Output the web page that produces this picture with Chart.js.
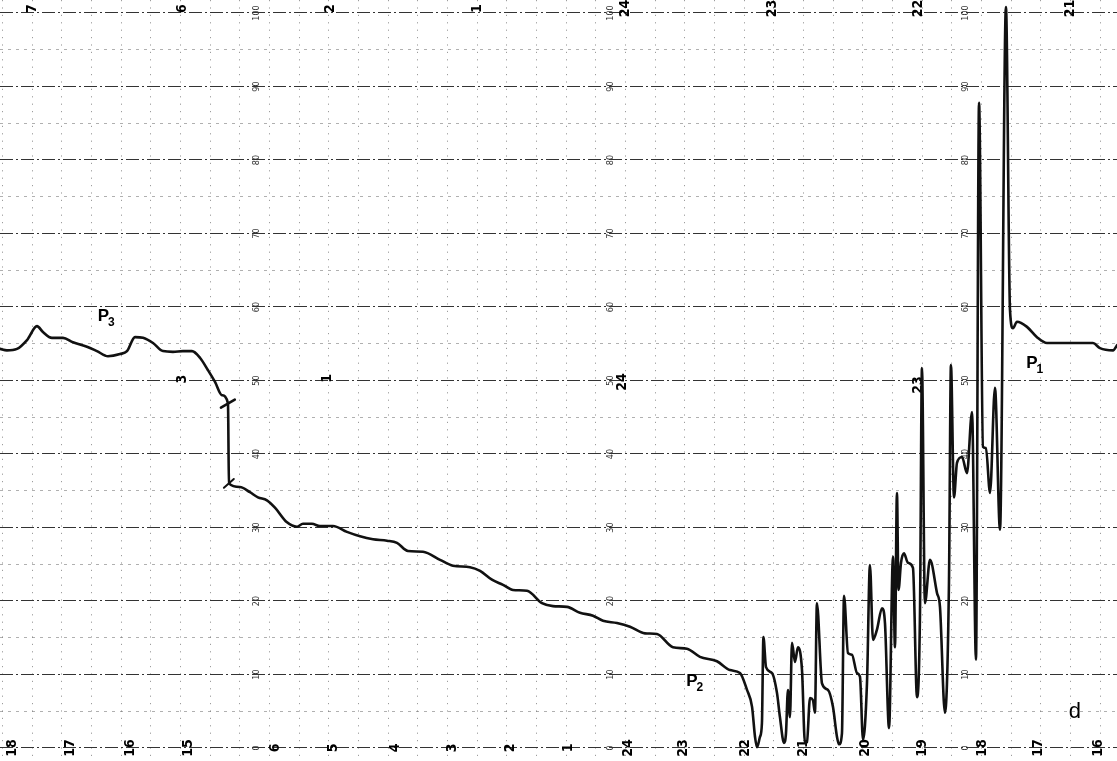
<!DOCTYPE html>
<html>
<head>
<title>Recorder strip</title>
<script src="https://cdn.jsdelivr.net/npm/chart.js"></script>
<style>
  html, body { margin: 0; padding: 0; background: #fff; }
  canvas { display: block; }
</style>
</head>
<body>
<canvas id="strip" width="1117" height="761"></canvas>

<script>
// trace: x = minutes from the first half-hour line, y = chart divisions (0-100)
const traceMinutes = [
  -2.4, 4.6, 14.8, 24.9, 35.0, 41.0, 50.1, 61.3, 71.4, 85.5, 95.6, 106.8, 118.9, 126.0,
  134.1, 142.2, 152.3, 162.4, 172.5, 182.6, 191.7, 199.8, 207.9, 215.0, 222.0, 228.1,
  229.1, 240.2, 250.3, 258.4, 267.5, 275.6, 287.8, 297.9, 303.9, 313.0, 321.1, 334.3,
  348.4, 361.6, 374.7, 388.9, 399.0, 410.1, 425.3, 442.5, 455.6, 472.8, 483.0, 495.0,
  506.2, 516.3, 530.4, 545.6, 556.7, 570.9, 584.0, 597.2, 607.3, 621.4, 634.6, 649.7,
  661.9, 678.0, 692.2, 705.3, 722.5, 735.7, 745.8,
  752.9, 758.0, 761.0, 763.0, 766.0, 768.0, 769.5, 772.1, 778.2, 783.2, 786.2, 790.3,
  792.3, 794.3, 796.3, 798.4, 801.4, 804.4, 808.5, 811.5, 813.5, 816.6, 819.6, 821.6,
  823.6, 828.7, 834.8, 839.8, 843.9, 845.9, 848.9, 851.0, 855.0, 859.0, 864.1, 867.1,
  870.2, 874.2, 877.2, 880.3, 884.3, 889.4, 892.4, 896.5, 900.5, 902.5, 904.5, 906.1,
  908.6, 911.6, 915.6, 920.7, 924.8, 927.8, 929.8, 932.8, 937.9, 945.0, 948.0, 953.0,
  957.1, 959.1, 962.2, 965.2, 970.3, 975.3, 980.4, 984.4, 987.5, 991.5, 994.5, 998.6,
  1003.6, 1008.7, 1014.7, 1018.8, 1021.8, 1025.9, 1036.0, 1046.1, 1056.2, 1069.4,
  1102.7, 1109.8, 1123.0, 1127.0
];
const traceValues = [
  54.3, 54.1, 54.3, 55.5, 57.4, 56.6, 55.8, 55.8, 55.2, 54.6, 54.0, 53.3, 53.6, 54.0,
  55.9, 55.8, 55.1, 54.0, 53.9, 54.0, 54.0, 53.1, 51.4, 49.8, 48.0, 46.9,
  36.0, 35.5, 34.8, 34.1, 33.7, 32.7, 30.7, 30.1, 30.5, 30.5, 30.2, 30.2,
  29.4, 28.8, 28.4, 28.2, 27.9, 26.8, 26.7, 25.6, 24.8, 24.6, 24.1, 22.9,
  22.2, 21.5, 21.4, 19.7, 19.3, 19.2, 18.4, 18.0, 17.3, 17.0, 16.5, 15.6,
  15.5, 13.7, 13.5, 12.4, 11.8, 10.6, 10.2,
  7.9, 5.6, 1.5, 0.1, 1.5, 3.4, 15.1, 11.0, 10.2, 7.5, 4.2, 0.7,
  2.0, 7.9, 4.2, 14.3, 11.7, 13.7, 10.6, 0.7, 0.8, 6.8, 6.5, 4.8,
  19.7, 8.8, 7.9, 5.6, 1.5, 0.5, 2.0, 20.7, 12.9, 12.7, 10.2, 9.7,
  1.1, 8.8, 24.9, 14.7, 16.1, 19.0, 17.0, 2.7, 26.0, 13.7, 34.7, 21.5,
  25.2, 26.5, 25.2, 24.5, 6.9, 18.4, 51.7, 19.7, 25.6, 21.1, 19.2, 4.8,
  22.4, 52.1, 34.1, 38.8, 39.6, 37.4, 45.7, 12.0, 87.8, 41.0, 40.8, 34.7,
  49.0, 29.7, 100.8, 59.6, 57.1, 58.0, 57.3, 55.9, 55.1, 55.1,
  55.1, 54.4, 54.1, 54.8
];

// short cross strokes at both ends of the jump
const markTopMinutes = [221, 235];
const markTopValues = [46.3, 47.4];
const markBottomMinutes = [224, 234];
const markBottomValues = [35.4, 36.6];

// hour numbers printed along the paper
const bottomHours = ['18','17','16','15','6','5','4','3','2','1','24','23','22','21','20','19','18','17','16'];
const bottomHourMinutes = [9.7, 68.3, 129.0, 187.7, 275.6, 334.3, 397.0, 454.6, 513.2, 571.9,
  632.5, 688.2, 750.9, 809.5, 872.2, 929.8, 990.5, 1047.1, 1107.8];
const topHours = ['7','6','2','1','24','23','22','21'];
const topHourMinutes = [29.9, 181.6, 331.2, 479.9, 629.5, 778.2, 925.8, 1079.5];
const midHours = ['3','1','24','23'];
const midHourMinutes = [181.6, 328.2, 626.5, 925.8];
const midHourValues = [50.2, 50.3, 49.8, 49.4];

// columns where the 0-100 scale is printed
const scaleColumnMinutes = [257.4, 615.4, 974.3];

// curve names
const peakNames = ['3', '2', '1'];
const peakMinutes = [102.2, 697.3, 1041.0];
const peakValues = [58.8, 9.1, 52.4];

const xy = (xs, ys) => xs.map((x, i) => ({ x: x, y: ys[i] }));

const paperText = {
  id: 'paperText',
  beforeDatasetsDraw(chart) {
    const { ctx, scales } = chart;
    const x = scales.x, y = scales.y;
    const put = (text, m, v, font, color, rot) => {
      ctx.save();
      ctx.translate(x.getPixelForValue(m), y.getPixelForValue(v));
      if (rot) ctx.rotate(-Math.PI / 2);
      ctx.font = font;
      ctx.fillStyle = color;
      ctx.textAlign = 'center';
      ctx.textBaseline = 'middle';
      ctx.fillText(text, 0, 0);
      ctx.restore();
    };
    const small = '9px "DejaVu Sans Condensed", "DejaVu Sans"';
    const hour = 'bold 14px "DejaVu Sans Condensed", "Liberation Sans Narrow", "DejaVu Sans"';

    scaleColumnMinutes.forEach(m => {
      y.ticks.forEach(t => put(String(t.value), m, t.value, small, '#333', true));
    });
    bottomHours.forEach((h, i) => put(h, bottomHourMinutes[i], 0, hour, '#000', true));
    topHours.forEach((h, i) => put(h, topHourMinutes[i], 100.6, hour, '#000', true));
    midHours.forEach((h, i) => put(h, midHourMinutes[i], midHourValues[i], hour, '#000', true));

    peakNames.forEach((n, i) => {
      put('P', peakMinutes[i], peakValues[i], 'bold 17px "Liberation Sans", Arial', '#000', false);
      put(n, peakMinutes[i] + 8, peakValues[i] - 0.9, 'bold 12px "Liberation Sans", Arial', '#000', false);
    });
    put('d', 1084.5, 4.9, '22px "Liberation Sans", Arial', '#000', false);
  }
};

const lineStyle = {
  borderColor: '#111',
  pointRadius: 0,
  fill: false,
  borderJoinStyle: 'round',
  borderCapStyle: 'round'
};

new Chart(document.getElementById('strip'), {
  type: 'line',
  data: {
    datasets: [
      Object.assign({ data: xy(traceMinutes, traceValues), borderWidth: 2.6, cubicInterpolationMode: 'monotone' }, lineStyle),
      Object.assign({ data: xy(markTopMinutes, markTopValues), borderWidth: 2.6 }, lineStyle),
      Object.assign({ data: xy(markBottomMinutes, markBottomValues), borderWidth: 2 }, lineStyle)
    ]
  },
  options: {
    responsive: false,
    animation: false,
    events: [],
    devicePixelRatio: 1,
    layout: { padding: 0 },
    plugins: { legend: { display: false }, tooltip: { enabled: false } },
    scales: {
      x: {
        type: 'linear',
        min: -2.4,
        max: 1127,
        ticks: { display: false, stepSize: 30, includeBounds: false },
        grid: { color: 'rgba(60,60,60,0.5)', lineWidth: 1, drawTicks: false, borderDash: [1.2, 6.2] },
        border: { display: false, dash: [1.2, 6.2] }
      },
      y: {
        type: 'linear',
        min: -1.77,
        max: 101.77,
        ticks: { display: false, stepSize: 10, includeBounds: false },
        grid: { color: '#333', lineWidth: 1.1, drawTicks: false, borderDash: [13, 3, 2, 3] },
        border: { display: false, dash: [13, 3, 2, 3] }
      },
      y5: {
        type: 'linear',
        position: 'left',
        min: -1.77,
        max: 101.77,
        ticks: { display: false, stepSize: 5, includeBounds: false },
        grid: {
          color: c => (c.tick && c.tick.value % 10 === 0) ? 'rgba(0,0,0,0)' : 'rgba(80,80,80,0.45)',
          lineWidth: 1, drawTicks: false, borderDash: [3, 5]
        },
        border: { display: false, dash: [3, 5] }
      }
    }
  },
  plugins: [paperText]
});
</script>
</body>
</html>
